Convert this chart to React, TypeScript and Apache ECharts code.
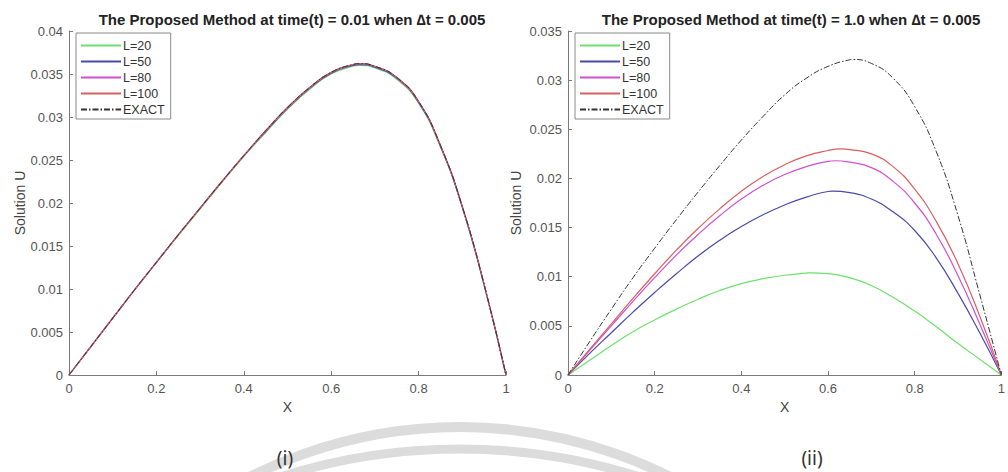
import React, { useEffect, useRef } from "react";
import * as echarts from "echarts";

const xs = [0, 0.05, 0.1, 0.15, 0.2, 0.25, 0.3, 0.35, 0.4, 0.45, 0.5, 0.55, 0.6, 0.65, 0.7, 0.75, 0.8, 0.85, 0.9, 0.95, 1];

// Panel (i): t = 0.01
const leftExact = [0, 0.0033, 0.0066, 0.0099, 0.0131, 0.0163, 0.0194, 0.0225, 0.0255, 0.0284, 0.0311, 0.0334, 0.0352, 0.0361, 0.0359, 0.0346, 0.0318, 0.0267, 0.0196, 0.0105, 0];
const leftL20 = [0, 0.0033, 0.0066, 0.0099, 0.0131, 0.0162, 0.0193, 0.0224, 0.0254, 0.0282, 0.0309, 0.0332, 0.035, 0.0359, 0.0357, 0.0344, 0.0316, 0.0265, 0.0195, 0.0104, 0];
const leftL50 = [0, 0.0033, 0.0066, 0.0099, 0.0131, 0.0163, 0.0194, 0.0225, 0.0255, 0.0283, 0.031, 0.0333, 0.0351, 0.036, 0.0358, 0.0345, 0.0317, 0.0266, 0.0195, 0.0105, 0];
const leftL80 = [0, 0.0033, 0.0066, 0.0099, 0.0131, 0.0163, 0.0194, 0.0225, 0.0255, 0.0284, 0.0311, 0.0334, 0.0352, 0.0361, 0.0359, 0.0346, 0.0318, 0.0267, 0.0196, 0.0105, 0];
const leftL100 = [0, 0.0033, 0.0066, 0.0099, 0.0131, 0.0163, 0.0194, 0.0225, 0.0255, 0.0284, 0.0311, 0.0334, 0.0352, 0.0361, 0.0359, 0.0346, 0.0318, 0.0267, 0.0196, 0.0105, 0];
// peak (x, value) of each curve in panel (i): L=20, L=50, L=80, L=100, EXACT
const leftPeakX = [0.665, 0.665, 0.665, 0.665, 0.665];
const leftPeakY = [0.036, 0.0361, 0.0362, 0.0362, 0.0362];

// Panel (ii): t = 1.0
const rightExact = [0, 0.0034, 0.0067, 0.0099, 0.0129, 0.0158, 0.0186, 0.0213, 0.0239, 0.0263, 0.0285, 0.0302, 0.0314, 0.03207, 0.0317, 0.0302, 0.0273, 0.0227, 0.0162, 0.0082, 0];
const rightL20 = [0, 0.0015, 0.003, 0.0044, 0.0056, 0.0067, 0.0077, 0.0086, 0.0093, 0.0098, 0.01015, 0.01037, 0.01032, 0.0099, 0.0091, 0.0079, 0.0065, 0.0049, 0.0032, 0.0016, 0];
const rightL50 = [0, 0.0022, 0.0043, 0.0064, 0.0084, 0.0103, 0.0121, 0.0137, 0.0151, 0.0163, 0.0173, 0.0181, 0.01867, 0.01855, 0.0179, 0.0166, 0.0147, 0.0119, 0.0083, 0.0043, 0];
const rightL80 = [0, 0.0025, 0.005, 0.0075, 0.0099, 0.0122, 0.0143, 0.0162, 0.0179, 0.0193, 0.0204, 0.0212, 0.02174, 0.02165, 0.0211, 0.0197, 0.0175, 0.0143, 0.0101, 0.0052, 0];
const rightL100 = [0, 0.0026, 0.0052, 0.0078, 0.0103, 0.0127, 0.0149, 0.0169, 0.0187, 0.0202, 0.0214, 0.0223, 0.02284, 0.02294, 0.0225, 0.0212, 0.0189, 0.0156, 0.0113, 0.006, 0];
// peak (x, value) of each curve in panel (ii)
const rightPeakX = [0.56, 0.61, 0.617, 0.63, 0.656];
const rightPeakY = [0.0104, 0.0187, 0.0218, 0.023, 0.0321];

const names = ["L=20", "L=50", "L=80", "L=100", "EXACT"];
const colors = ["#6ee06e", "#4a4aa8", "#d050d0", "#d86060", "#333333"];
const titles = [
  "The Proposed Method at time(t) = 0.01 when \u2206t = 0.005",
  "The Proposed Method at time(t) = 1.0 when \u2206t = 0.005",
];

const FONT = "Liberation Sans, Arial, Helvetica, sans-serif";

function pairs(vals: number[], px: number, py: number) {
  const pts = xs.map((x, i) => [x, vals[i]]);
  pts.push([px, py]);
  pts.sort((a, b) => a[0] - b[0]);
  return pts;
}

export default function App() {
  const ref = useRef<HTMLDivElement>(null);
  useEffect(() => {
    if (!ref.current) return;
    const chart = echarts.init(ref.current, null, { renderer: "svg" });
    const panels = [
      { vals: [leftL20, leftL50, leftL80, leftL100, leftExact], px: leftPeakX, py: leftPeakY },
      { vals: [rightL20, rightL50, rightL80, rightL100, rightExact], px: rightPeakX, py: rightPeakY },
    ];
    const series: any[] = [];
    panels.forEach((p, gi) => {
      p.vals.forEach((vals, si) => {
        series.push({
          type: "line",
          name: names[si],
          xAxisIndex: gi,
          yAxisIndex: gi,
          data: pairs(vals, p.px[si], p.py[si]),
          smooth: 0.5,
          symbol: "none",
          showSymbol: false,
          color: colors[si],
          lineStyle: {
            width: si === 4 ? 1 : 1.2,
            color: colors[si],
            type: si === 4 ? [6, 2, 1.5, 2] : "solid",
          },
          z: 2 + si,
        });
      });
    });
    const xAxisCommon = (gi: number) => ({
      type: "value",
      gridIndex: gi,
      min: 0,
      max: 1,
      interval: 0.2,
      name: "X",
      nameLocation: "middle",
      nameGap: 24,
      nameTextStyle: { fontFamily: FONT, fontSize: 14, color: "#444" },
      axisLine: { show: true, lineStyle: { color: "#7a7a7a", width: 1 } },
      axisTick: { show: true, inside: true, length: 4, lineStyle: { color: "#7a7a7a" } },
      axisLabel: { margin: 7, fontFamily: FONT, fontSize: 13, color: "#555" },
      splitLine: { show: false },
    });
    const yAxisCommon = (gi: number, max: number, gap: number) => ({
      type: "value",
      gridIndex: gi,
      min: 0,
      max,
      interval: 0.005,
      name: "Solution U",
      nameLocation: "middle",
      nameGap: gap,
      nameTextStyle: { fontFamily: FONT, fontSize: 14, color: "#444" },
      axisLine: { show: true, lineStyle: { color: "#7a7a7a", width: 1 } },
      axisTick: { show: true, inside: true, length: 4, lineStyle: { color: "#7a7a7a" } },
      axisLabel: { margin: 6, fontFamily: FONT, fontSize: 13, color: "#555" },
      splitLine: { show: false },
    });
    const legendCommon = (left: number) => ({
      orient: "vertical",
      left,
      top: 33,
      data: names,
      itemWidth: 40,
      itemHeight: 10,
      itemGap: 3,
      padding: [6, 6, 3, 4],
      borderColor: "#8a8a8a",
      borderWidth: 1,
      backgroundColor: "#fff",
      selectedMode: false,
      itemStyle: { opacity: 0 },
      textStyle: { fontFamily: FONT, fontSize: 12.5, color: "#333", padding: [0, 0, 0, -3] },
    });
    chart.setOption({
      animation: false,
      backgroundColor: "#fff",
      title: [
        {
          text: titles[0],
          left: 287,
          top: 7,
          textAlign: "center",
          textStyle: { fontFamily: FONT, fontSize: 15, fontWeight: "bold", color: "#222" },
        },
        {
          text: titles[1],
          left: 786,
          top: 7,
          textAlign: "center",
          textStyle: { fontFamily: FONT, fontSize: 15, fontWeight: "bold", color: "#222" },
        },
      ],
      legend: [legendCommon(76), legendCommon(575)],
      grid: [
        { left: 69, top: 31, width: 437, height: 344 },
        { left: 568, top: 31, width: 437, height: 344 },
      ],
      xAxis: [xAxisCommon(0), xAxisCommon(1)],
      yAxis: [yAxisCommon(0, 0.04, 41), yAxisCommon(1, 0.035, 45)],
      series,
      graphic: [
        {
          type: "arc",
          silent: true,
          z: -10,
          shape: { cx: 460, cy: 894, r: 467, startAngle: (-128 * Math.PI) / 180, endAngle: (-52 * Math.PI) / 180 },
          style: { stroke: "#dcdcdc", lineWidth: 10, fill: "none" },
        },
        {
          type: "arc",
          silent: true,
          z: -10,
          shape: { cx: 460, cy: 1038, r: 589, startAngle: (-115 * Math.PI) / 180, endAngle: (-65 * Math.PI) / 180 },
          style: { stroke: "#dcdcdc", lineWidth: 9, fill: "none" },
        },
        {
          type: "text",
          x: 285,
          y: 458,
          style: { text: "(i)", fontFamily: "Noto Sans, sans-serif", fontSize: 19, fill: "#333", align: "center", verticalAlign: "middle" },
        },
        {
          type: "text",
          x: 812,
          y: 458,
          style: { text: "(ii)", fontFamily: "Noto Sans, sans-serif", fontSize: 19, fill: "#333", align: "center", verticalAlign: "middle" },
        },
      ],
    });
    return () => chart.dispose();
  }, []);
  return <div ref={ref} style={{ position: "absolute", left: 0, top: 0, width: 1008, height: 472 }} />;
}
